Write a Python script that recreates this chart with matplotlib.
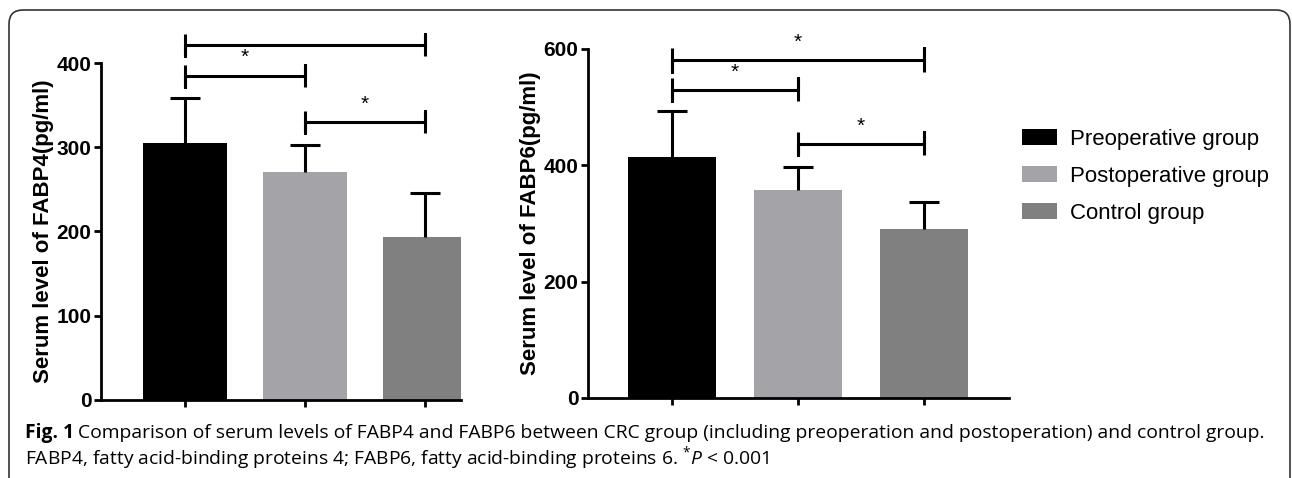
import matplotlib
matplotlib.use('Agg')
import matplotlib.pyplot as plt
from matplotlib.patches import Patch, FancyBboxPatch

groups = ['Preoperative group', 'Postoperative group', 'Control group']
colors = ['#000000', '#a3a3a8', '#808080']

fabp4_mean = [305, 271, 194]
fabp4_sd = [53, 32, 52]
fabp6_mean = [414, 357, 291]
fabp6_sd = [80, 40, 46]

# (from bar, to bar, bracket height)
fabp4_brackets = [(0, 2, 421), (0, 1, 385), (1, 2, 330)]
fabp6_brackets = [(0, 2, 581), (0, 1, 530), (1, 2, 437)]

plt.rcParams['font.family'] = ['Liberation Sans', 'DejaVu Sans']
plt.rcParams['mathtext.fontset'] = 'custom'
plt.rcParams['mathtext.rm'] = 'Open Sans'
plt.rcParams['mathtext.it'] = 'Open Sans:italic'

fig = plt.figure(figsize=(12.92, 4.78), dpi=100)


def panel(rect, means, sds, brackets, ymax, yticks, ylabel, xlim, tick_h):
    ax = fig.add_axes(rect)
    x = range(len(means))
    ax.bar(x, means, width=0.7, color=colors)
    eb = ax.errorbar(x, means, yerr=[[0] * len(sds), sds], fmt='none',
                     ecolor='black', elinewidth=2.2, capsize=11, capthick=2.2)
    eb[1][0].set_visible(False)  # no cap on the zero lower error
    for a, b, h in brackets:
        ax.plot([a, a, a, b, b, b], [h + tick_h, h - tick_h, h, h, h + tick_h, h - tick_h],
                color='black', lw=2.2, clip_on=False, solid_capstyle='butt')
        ax.annotate('*', ((a + b) / 2, h), xytext=(0, 6), textcoords='offset points',
                    ha='center', va='bottom', fontsize=15)
    ax.set_xlim(*xlim)
    ax.set_ylim(0, ymax)
    ax.set_yticks(yticks)
    ax.set_xticks(list(x))
    ax.set_xticklabels([])
    ax.spines['top'].set_visible(False)
    ax.spines['right'].set_visible(False)
    for s in ['left', 'bottom']:
        ax.spines[s].set_linewidth(2)
    ax.tick_params(width=2, length=5, labelsize=15, pad=2)
    for lab in ax.get_yticklabels():
        lab.set_fontweight('bold')
    ax.set_ylabel(ylabel, fontsize=16, fontweight='bold', labelpad=2)
    return ax


panel([0.0782, 0.1632, 0.2786, 0.7050], fabp4_mean, fabp4_sd, fabp4_brackets,
      400, [0, 100, 200, 300, 400], 'Serum level of FABP4(pg/ml)', (-0.7, 2.3), 13)
panel([0.4551, 0.1674, 0.3259, 0.7301], fabp6_mean, fabp6_sd, fabp6_brackets,
      600, [0, 200, 400, 600], 'Serum level of FABP6(pg/ml)', (-0.667, 2.675), 20)

handles = [Patch(facecolor=c, edgecolor='none') for c in colors]
fig.legend(handles, groups, loc='center left', bbox_to_anchor=(0.791, 0.631),
           frameon=False, fontsize=16, handlelength=1.58, handleheight=0.72,
           handletextpad=0.6, labelspacing=0.73, borderpad=0, borderaxespad=0)

# caption
fs = 13.9
t1 = fig.text(25 / 1292, 1 - 433 / 478, 'Fig. 1', fontsize=fs, fontweight='bold',
              family='Open Sans', va='center')
fig.canvas.draw()
bb = t1.get_window_extent()
fig.text((bb.x1 + 4) / 1292, 1 - 433 / 478,
         'Comparison of serum levels of FABP4 and FABP6 between CRC group '
         '(including preoperation and postoperation) and control group.',
         fontsize=fs, family='Open Sans', va='center')
fig.text(25 / 1292, 1 - 458 / 478,
         r'FABP4, fatty acid-binding proteins 4; FABP6, fatty acid-binding proteins 6. '
         r'$^{*}\mathit{P}$ < 0.001',
         fontsize=fs, family='Open Sans', va='center')

frame = FancyBboxPatch((9, -30), 1281, 498, boxstyle='round,pad=0,rounding_size=14',
                       transform=None, fill=False, edgecolor='#333333', lw=1.2)
fig.patches.append(frame)

fig.savefig('out.png', dpi=100)
